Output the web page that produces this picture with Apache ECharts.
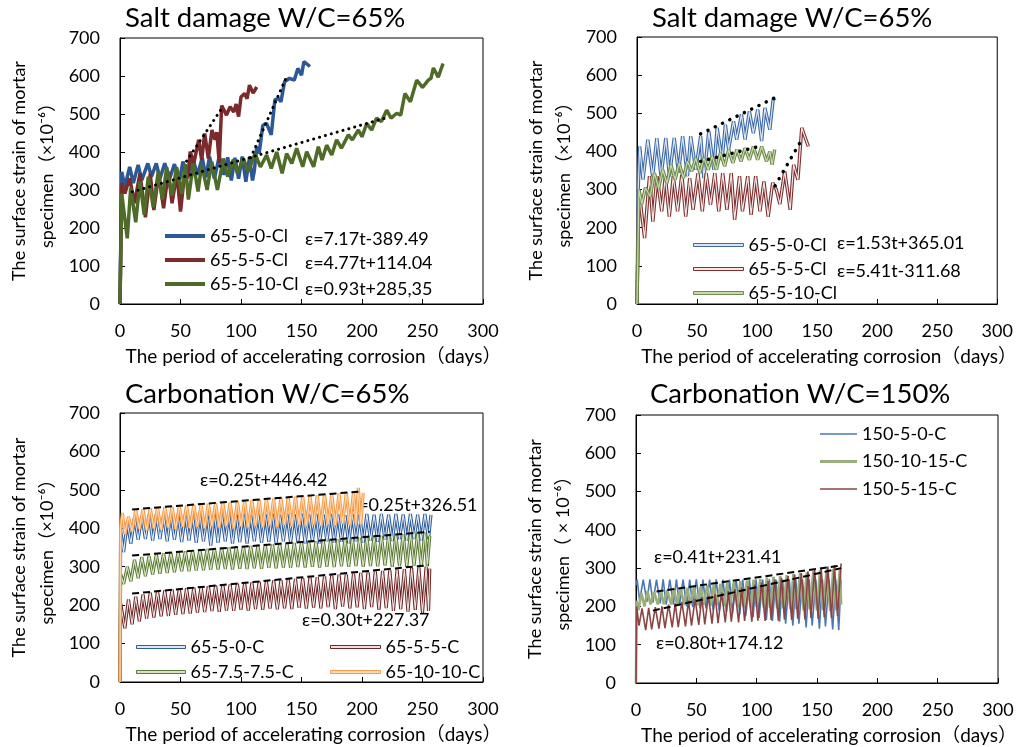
<!DOCTYPE html>
<html>
<head>
<meta charset="utf-8">
<script src="https://cdn.jsdelivr.net/npm/echarts@6/dist/echarts.min.js"></script>
<style>
html,body{margin:0;padding:0;background:#fff;}
#chart{width:1019px;height:747px;}
</style>
</head>
<body>
<div id="chart"></div>
<script>
// ---------- Tick settings ----------
const yMin = 0, yMax = 700, yStep = 100;
const xMin = 0, xMax = 300, xStep = 50;

// ---------- Titles / labels ----------
const titles = ['Salt damage W/C=65%', 'Salt damage W/C=65%', 'Carbonation W/C=65%', 'Carbonation W/C=150%'];
const xName = 'The period of accelerating corrosion（days）';
const yNameA = 'The surface strain of mortar\nspecimen（×10⁻⁶）';
const yNameB = 'The surface strain of mortar\nspecimen（ × 10⁻⁶）';

// ---------- Panel 1: Salt damage (solid) ----------
const p1Names = ['65-5-0-Cl', '65-5-5-Cl', '65-5-10-Cl'];
const p1Blue = [[0,0],[1.4,348],[4,309],[8,361],[11,318],[15,366],[18,326],[23,370],[26,335],[30,370],[33,330],[37,370],[41,330],[45,368],[49,322],[52,375],[56,335],[60,385],[64,340],[68,385],[71,333],[74,388],[78,330],[82,388],[86,340],[89,386],[92,325],[95,385],[98,330],[101,388],[104,322],[107,385],[109.5,325],[111,350],[113,414],[115,396],[118,470],[121,476],[125,445],[128,537],[131,541],[133,532],[136,585],[140,594],[144,589],[147,620],[150,602],[152,638],[157,625]];
const p1Red = [[0,0],[1.4,318],[4,291],[8,331],[12,265],[16.5,344],[21,228],[25,343],[28,247],[32,343],[36,252],[40,348],[43,265],[47,343],[50,243],[54,361],[56,330],[58,401],[61,370],[65,432],[67.5,379],[70,449],[73,383],[76,458],[78.5,432],[80,452],[82,372],[84,522],[86,510],[88,497],[91,519],[94,505],[96,526],[98,493],[100,545],[103,554],[105,540],[107,576],[110,555],[113,571]];
const p1Green = [[0,0],[1.4,291],[6,173],[8.8,305],[13,215],[16.5,322],[20,235],[23.4,335],[27.5,255],[31.7,350],[35,275],[38.6,360],[43,285],[46.8,360],[51,290],[54,368],[56.5,275],[60.6,370],[64.5,296],[67.5,366],[72,300],[75.8,375],[80.5,300],[85.4,383],[89,335],[93.7,380],[97,344],[102,383],[106,348],[111.6,396],[116,361],[121.2,392],[125,357],[129.5,400],[134,344],[137.7,396],[142,370],[146,410],[151,361],[154.3,401],[160,361],[163.9,414],[167,379],[170.8,418],[175,392],[179,432],[183,410],[188.7,445],[192,432],[197,458],[200,440],[203.9,475],[208,458],[212,489],[216,480],[220.4,510],[224,489],[228.7,502],[232,497],[235.5,554],[240,532],[245.2,589],[250,570],[254.8,589],[257,594],[259,621],[263,597],[267,633]];
const p1FitBlue = [[108,385],[137,593]];
const p1FitRed = [[55,376],[85,519]];
const p1FitGreen = [[10,295],[220,490]];
const p1Eq = ['ε=7.17t-389.49', 'ε=4.77t+114.04', 'ε=0.93t+285,35'];

// ---------- Panel 2: Salt damage (double lines) ----------
const p2Names = ['65-5-0-Cl', '65-5-5-Cl', '65-5-10-Cl'];
const p2Blue = [[0,0],[1,300],[2.2,413],[5,326],[9,431],[13,335],[16.5,435],[20,335],[24,435],[27,335],[31,435],[34.6,344],[38,440],[42,335],[44.7,440],[49,352],[53,440],[55.7,330],[59.8,453],[64,352],[66.7,462],[70.8,378],[73.6,470],[76.3,405],[80.4,479],[83,431],[87,497],[90,431],[93.6,505],[96.9,448],[100.5,510],[103.8,427],[106.5,514],[110.6,457],[113.4,536],[115.3,540]];
const p2Red = [[0,0],[1.6,300],[6.3,173],[10.4,335],[13.2,216],[16.7,335],[20.6,243],[23.6,335],[26.9,229],[30.2,335],[33.8,243],[37.3,339],[40.6,229],[43.9,330],[46.7,247],[50.8,343],[54.4,243],[57.6,343],[61.2,260],[64.8,343],[68.1,243],[71.4,343],[74.9,247],[78.5,343],[81.3,221],[85.4,335],[87.8,243],[92.2,335],[95,234],[98.8,335],[102.4,243],[105.7,321],[109.2,229],[113,318],[116,300],[119,262],[123,348],[127.6,247],[130.4,365],[134,326],[137.2,462],[142.7,413]];
const p2Green = [[0,0],[1.6,300],[4,262],[7,305],[11,282],[14.5,343],[18.1,304],[21.4,352],[25,317],[28.3,365],[31.8,326],[35.1,370],[38.7,330],[42,374],[45.6,348],[48.9,383],[52.4,343],[55.7,383],[59.3,352],[62.6,387],[66.2,352],[69.4,396],[73,361],[76.3,405],[79.9,370],[83.2,405],[86.7,374],[90,409],[93.6,378],[96.9,413],[100.5,378],[103.8,413],[107.9,374],[110.6,400],[112.5,365],[114.7,405]];
const p2FitBlue = [[53,446],[115,541]];
const p2FitRed = [[115,310],[137,430]];
const p2FitGreen = [[53,374],[104,415]];
const p2Eq = ['ε=1.53t+365.01', 'ε=5.41t-311.68'];

// ---------- Panel 3: Carbonation W/C=65% (double lines) ----------
const p3Names = ['65-5-0-C', '65-5-5-C', '65-7.5-7.5-C', '65-10-10-C'];
const p3Blue = [[0,0],[0.5,395],[3,338],[6,415],[9,360],[12,428],[15,370],[18,432],[21,372],[24,435],[27,368],[30,436],[33,372],[36,434],[39,366],[42,437],[45,370],[48,435],[51,364],[54,436],[57,368],[60,434],[63,362],[66,437],[69,366],[72,435],[75,355],[78,437],[81,362],[84,436],[87,366],[90,438],[93,360],[96,436],[99,364],[102,437],[105,360],[108,435],[111,366],[114,438],[117,362],[120,436],[123,365],[126,437],[129,360],[132,435],[135,366],[138,437],[141,362],[144,436],[147,365],[150,438],[153,360],[156,436],[159,364],[162,437],[165,361],[168,435],[171,366],[174,437],[177,362],[180,436],[183,365],[186,434],[189,361],[192,436],[195,366],[198,435],[201,362],[204,437],[207,368],[210,435],[213,365],[216,437],[219,370],[222,435],[225,367],[228,437],[231,372],[234,436],[237,368],[240,437],[243,372],[246,435],[249,368],[252,437],[255,372],[257,435]];
const p3Red = [[0,0],[0.5,205],[4,140],[7,215],[10,150],[13,222],[16,158],[19,228],[22,165],[25,232],[28,168],[31,236],[34,171],[37,238],[40,172],[43,241],[46,175],[49,242],[52,177],[55,244],[58,178],[61,246],[64,181],[67,248],[70,182],[73,249],[76,185],[79,251],[82,183],[85,253],[88,186],[91,254],[94,185],[97,256],[100,188],[103,257],[106,186],[109,259],[112,190],[115,261],[118,188],[121,262],[124,191],[127,264],[130,189],[133,265],[136,192],[139,267],[142,190],[145,268],[148,193],[151,270],[154,191],[157,272],[160,194],[163,273],[166,192],[169,275],[172,195],[175,277],[178,190],[181,279],[184,196],[187,280],[190,192],[193,282],[196,194],[199,284],[202,190],[205,286],[208,195],[211,288],[214,188],[217,289],[220,192],[223,291],[226,185],[229,293],[232,190],[235,294],[238,183],[241,296],[244,188],[247,298],[250,180],[253,300],[255,185],[256,295]];
const p3Green = [[0,0],[0.5,282],[3,255],[6,300],[9,262],[12,318],[15,270],[18,325],[21,275],[24,328],[27,280],[30,332],[33,282],[36,334],[39,284],[42,336],[45,286],[48,338],[51,288],[54,340],[57,288],[60,342],[63,290],[66,344],[69,291],[72,346],[75,292],[78,348],[81,293],[84,349],[87,294],[90,350],[93,293],[96,352],[99,295],[102,353],[105,294],[108,354],[111,296],[114,355],[117,295],[120,357],[123,297],[126,358],[129,296],[132,360],[135,298],[138,361],[141,297],[144,362],[147,299],[150,364],[153,298],[156,365],[159,300],[162,366],[165,298],[168,368],[171,300],[174,369],[177,299],[180,371],[183,301],[186,372],[189,300],[192,374],[195,302],[198,375],[201,300],[204,377],[207,302],[210,378],[213,301],[216,380],[219,303],[222,381],[225,300],[228,383],[231,302],[234,384],[237,300],[240,386],[243,303],[246,387],[249,300],[252,389],[254,302],[256,380]];
const p3Orange = [[0,0],[0.5,400],[2,440],[4,385],[7,430],[10,392],[13,448],[16,398],[19,450],[22,395],[25,452],[28,400],[31,453],[34,396],[37,455],[40,402],[43,456],[46,398],[49,458],[52,404],[55,459],[58,400],[61,461],[64,405],[67,462],[70,400],[73,464],[76,406],[79,465],[82,402],[85,467],[88,406],[91,468],[94,400],[97,470],[100,405],[103,471],[106,402],[109,473],[112,407],[115,474],[118,403],[121,476],[124,408],[127,477],[130,404],[133,479],[136,409],[139,480],[142,405],[145,482],[148,410],[151,483],[154,406],[157,485],[160,410],[163,486],[166,407],[169,488],[172,411],[175,489],[178,408],[181,491],[184,412],[187,492],[190,409],[193,494],[195,412],[197,505],[199,410],[201,492]];
const p3FitOrange = [[10,449],[200,496]];
const p3FitGreen = [[10,329],[256,391]];
const p3FitRed = [[10,230],[255,304]];
const p3Eq = ['ε=0.25t+446.42', 'ε=0.25t+326.51', 'ε=0.30t+227.37'];

// ---------- Panel 4: Carbonation W/C=150% ----------
const p4Names = ['150-5-0-C', '150-10-15-C', '150-5-15-C'];
const p4Blue = [[0,255],[1,270],[3,215],[6,270],[9,212],[11.5,271],[14,210],[17,270],[20,208],[22.5,271],[25,205],[28,270],[31,205],[33.5,271],[36,202],[39,270],[42,200],[44.5,270],[47,198],[50,271],[53,195],[55.5,270],[58,195],[61,270],[64,190],[66.5,271],[69,188],[72,270],[75,185],[77.5,270],[80,182],[83,271],[86,180],[88.5,270],[91,176],[94,270],[97,172],[99.5,271],[102,170],[105,270],[108,165],[110.5,271],[113,162],[116,270],[119,160],[121.5,270],[124,155],[127,271],[130,150],[132.5,270],[135,155],[138,270],[141,145],[143.5,271],[146,150],[149,270],[152,142],[154.5,271],[157,148],[160,270],[163,140],[165.5,270],[168,138],[170,268]];
const p4Green = [[0,0],[0.5,215],[2,190],[4.5,235],[7,200],[9.5,240],[12,205],[15,238],[18,205],[20.5,242],[23,206],[26,243],[29,205],[31.5,245],[34,206],[37,246],[40,204],[42.5,248],[45,205],[48,250],[51,203],[53.5,252],[56,204],[59,255],[62,202],[64.5,257],[67,203],[70,259],[73,200],[75.5,261],[78,202],[81,263],[84,200],[86.5,266],[89,200],[92,268],[95,198],[97.5,270],[100,199],[103,272],[106,196],[108.5,275],[111,197],[114,277],[117,195],[119.5,280],[122,195],[125,282],[128,193],[130.5,285],[133,193],[136,287],[139,190],[141.5,289],[144,192],[147,292],[150,190],[152.5,294],[155,190],[158,296],[161,188],[163.5,298],[166,190],[169,300],[170,205]];
const p4Red = [[0,0],[0.5,200],[2.5,150],[5,195],[8,138],[10.5,196],[13,140],[16,198],[19,142],[21.5,200],[24,143],[27,205],[30,145],[32.5,208],[35,146],[38,212],[41,148],[43.5,215],[46,150],[49,220],[52,152],[54.5,224],[57,153],[60,228],[63,155],[65.5,232],[68,156],[71,236],[74,158],[76.5,240],[79,160],[82,245],[85,158],[87.5,249],[90,162],[93,253],[96,160],[98.5,257],[101,163],[104,262],[107,162],[109.5,266],[112,165],[115,270],[118,163],[120.5,275],[123,166],[126,279],[129,165],[131.5,283],[134,168],[137,287],[140,166],[142.5,292],[145,170],[148,296],[151,168],[153.5,300],[156,172],[159,304],[162,170],[164.5,308],[167,175],[170,312]];
const p4FitUpper = [[17,239],[170,307]];
const p4FitLower = [[14,189],[170,300]];
const p4Eq = ['ε=0.41t+231.41', 'ε=0.80t+174.12'];

// ---------- Build option ----------
const FONT = 'Lato, "Noto Sans CJK SC", "DejaVu Sans", sans-serif';
const grids = [
  {left:120, top:38, width:363, height:266},
  {left:637, top:37, width:365, height:267},
  {left:120, top:413, width:363, height:269},
  {left:636, top:415, width:362, height:268}
];

function xAxisFor(i){
  return {gridIndex:i, type:'value', min:xMin, max:xMax, interval:xStep,
    name:xName, nameLocation:'middle', nameGap:43,
    nameTextStyle:{fontSize:19, color:'#000', fontFamily:FONT, padding:[0,0,0,24]},
    axisLine:{onZero:false, lineStyle:{color:'#000', width:1}},
    axisTick:{inside:true, length:5, lineStyle:{color:'#000'}},
    axisLabel:{fontSize:18, color:'#000', fontFamily:FONT, margin:18},
    splitLine:{show:false}};
}
function yAxisFor(i, nm){
  return {gridIndex:i, type:'value', min:yMin, max:yMax, interval:yStep,
    name:nm, nameLocation:'middle', nameGap:59, nameRotate:90,
    nameTextStyle:{fontSize:18, color:'#000', fontFamily:FONT, lineHeight:28, align:'center'},
    axisLine:{onZero:false, lineStyle:{color:'#000', width:1}},
    axisTick:{inside:true, length:5, lineStyle:{color:'#000'}},
    axisLabel:{fontSize:18, color:'#000', fontFamily:FONT, margin:20},
    splitLine:{show:false}};
}
function solid(name, data, idx, color, width){
  return {name:name, type:'line', xAxisIndex:idx, yAxisIndex:idx, data:data,
    showSymbol:false, symbol:'none', color:color,
    lineStyle:{color:color, width:width}, emphasis:{disabled:true}};
}
function dbl(name, data, idx, color, inner, wOut, wIn){
  return [
    {name:name, type:'line', xAxisIndex:idx, yAxisIndex:idx, data:data,
     showSymbol:false, symbol:'none', color:color,
     lineStyle:{color:color, width:wOut}, emphasis:{disabled:true}},
    {name:name+' ', type:'line', xAxisIndex:idx, yAxisIndex:idx, data:data,
     showSymbol:false, symbol:'none', color:inner, silent:true,
     lineStyle:{color:inner, width:wIn}, emphasis:{disabled:true}}
  ];
}
function fit(data, idx, kind){
  const ls = kind === 'dot1' ? {color:'#000', width:3, type:[0.1,6], cap:'round'}
           : kind === 'dot2' ? {color:'#000', width:3.5, type:[0.1,8], cap:'round'}
           : {color:'#000', width:2, type:[7,4]};
  return {name:'fit', type:'line', xAxisIndex:idx, yAxisIndex:idx, data:data,
    showSymbol:false, symbol:'none', silent:true, lineStyle:ls, z:5, emphasis:{disabled:true}};
}

const C = {
  b1:'#2C5895', r1:'#7B2B2B', g1:'#4E6B28',
  b2:'#3D6BA8', b2i:'#DCE6F2', r2:'#7E2F2F', r2i:'#F6E8E8', g2:'#6E8B4A', g2i:'#C9D8B3',
  b3:'#2F5D9A', b3i:'#DFE8F5', r3:'#6B2626', r3i:'#F3E0E0', g3:'#5C7A36', g3i:'#D7E4C4', o3:'#F79A46', o3i:'#FDD9B5',
  b4:'#4C78B0', g4:'#9AAE7E', r4:'#8B4545'
};

const series = [].concat(
  [solid(p1Names[0], p1Blue, 0, C.b1, 3.5), solid(p1Names[1], p1Red, 0, C.r1, 3.5), solid(p1Names[2], p1Green, 0, C.g1, 3.5),
   fit(p1FitBlue, 0, 'dot1'), fit(p1FitRed, 0, 'dot1'), fit(p1FitGreen, 0, 'dot1')],
  dbl(p2Names[0], p2Blue, 1, C.b2, C.b2i, 3.4, 1.2),
  dbl(p2Names[1], p2Red, 1, C.r2, C.r2i, 3.4, 1.2),
  dbl(p2Names[2], p2Green, 1, C.g2, C.g2i, 3.4, 1.2),
  [fit(p2FitBlue, 1, 'dot2'), fit(p2FitRed, 1, 'dot2'), fit(p2FitGreen, 1, 'dot2')],
  dbl(p3Names[0], p3Blue, 2, C.b3, C.b3i, 3.2, 1.1),
  dbl(p3Names[1], p3Red, 2, C.r3, C.r3i, 3.2, 1.1),
  dbl(p3Names[2], p3Green, 2, C.g3, C.g3i, 3.2, 1.1),
  dbl(p3Names[3], p3Orange, 2, C.o3, C.o3i, 3.2, 1.1),
  [fit(p3FitOrange, 2, 'dash'), fit(p3FitGreen, 2, 'dash'), fit(p3FitRed, 2, 'dash')],
  [solid(p4Names[0], p4Blue, 3, C.b4, 1.6), solid(p4Names[1], p4Green, 3, C.g4, 2.6), solid(p4Names[2], p4Red, 3, C.r4, 1.6),
   fit(p4FitUpper, 3, 'dash'), fit(p4FitLower, 3, 'dash')]
);

const legendText = {fontSize:18, color:'#000', fontFamily:FONT};
function legItemW(name, color, w, h, border){
  const it = {name:name, icon:'path://M0,0H' + w + 'V' + h + 'H0Z',
    itemStyle:{color:color, borderWidth:0}};
  if (border) { it.itemStyle.borderColor = border; it.itemStyle.borderWidth = 1; }
  return it;
}

const legends = [
  {orient:'vertical', left:160, top:222, itemWidth:40, itemHeight:14, itemGap:6, textStyle:legendText,
   selectedMode:false,
   data:[legItemW(p1Names[0], C.b1, 40, 4), legItemW(p1Names[1], C.r1, 40, 4), legItemW(p1Names[2], C.g1, 40, 4)]},
  {orient:'vertical', left:688, top:231, itemWidth:50, itemHeight:14, itemGap:6, textStyle:legendText,
   selectedMode:false,
   data:[legItemW(p2Names[0], C.b2i, 50, 3, C.b2), legItemW(p2Names[1], C.r2i, 50, 3, C.r2), legItemW(p2Names[2], C.g2i, 50, 3, C.g2)]},
  {orient:'vertical', left:131, top:633, itemWidth:49, itemHeight:14, itemGap:7, textStyle:legendText,
   selectedMode:false,
   data:[legItemW(p3Names[0], C.b3i, 49, 3, C.b3), legItemW(p3Names[2], C.g3i, 49, 3, C.g3)]},
  {orient:'vertical', left:325, top:633, itemWidth:50, itemHeight:14, itemGap:7, textStyle:legendText,
   selectedMode:false,
   data:[legItemW(p3Names[1], C.r3i, 50, 3, C.r3), legItemW(p3Names[3], C.o3i, 50, 3, C.o3)]},
  {orient:'vertical', left:815, top:420, itemWidth:37, itemHeight:14, itemGap:9.5, textStyle:legendText,
   selectedMode:false,
   data:[legItemW(p4Names[0], C.b4, 37, 1.6), legItemW(p4Names[1], C.g4, 37, 3), legItemW(p4Names[2], C.r4, 37, 1.6)]}
];

function eq(text, x, y){
  return {type:'text', x:x, y:y, silent:true,
    style:{text:text, fill:'#000', font:'18px ' + FONT, verticalAlign:'middle', align:'left'}};
}
const graphics = [
  eq(p1Eq[0], 305, 239), eq(p1Eq[1], 305, 263), eq(p1Eq[2], 305, 289),
  eq(p2Eq[0], 837, 243), eq(p2Eq[1], 837, 271),
  eq(p3Eq[0], 200, 480), eq(p3Eq[1], 350, 505), eq(p3Eq[2], 302, 620),
  eq(p4Eq[0], 654, 557), eq(p4Eq[1], 656, 643)
];

const titleStyle = {fontSize:27.5, fontWeight:'normal', color:'#000', fontFamily:FONT};
const option = {
  animation:false,
  backgroundColor:'#fff',
  title:[
    {text:titles[0], left:125, top:4, padding:0, textStyle:titleStyle},
    {text:titles[1], left:652, top:4, padding:0, textStyle:titleStyle},
    {text:titles[2], left:125, top:380, padding:0, textStyle:titleStyle},
    {text:titles[3], left:650, top:380, padding:0, textStyle:titleStyle}
  ],
  grid: grids.map(g => Object.assign({show:true, borderColor:'#000', borderWidth:1, backgroundColor:'transparent', containLabel:false}, g)),
  xAxis:[xAxisFor(0), xAxisFor(1), xAxisFor(2), xAxisFor(3)],
  yAxis:[yAxisFor(0, yNameA), yAxisFor(1, yNameA), yAxisFor(2, yNameA), yAxisFor(3, yNameB)],
  legend: legends,
  graphic: graphics,
  series: series
};

const chart = echarts.init(document.getElementById('chart'), null, {renderer:'canvas'});
chart.setOption(option);
</script>
</body>
</html>
